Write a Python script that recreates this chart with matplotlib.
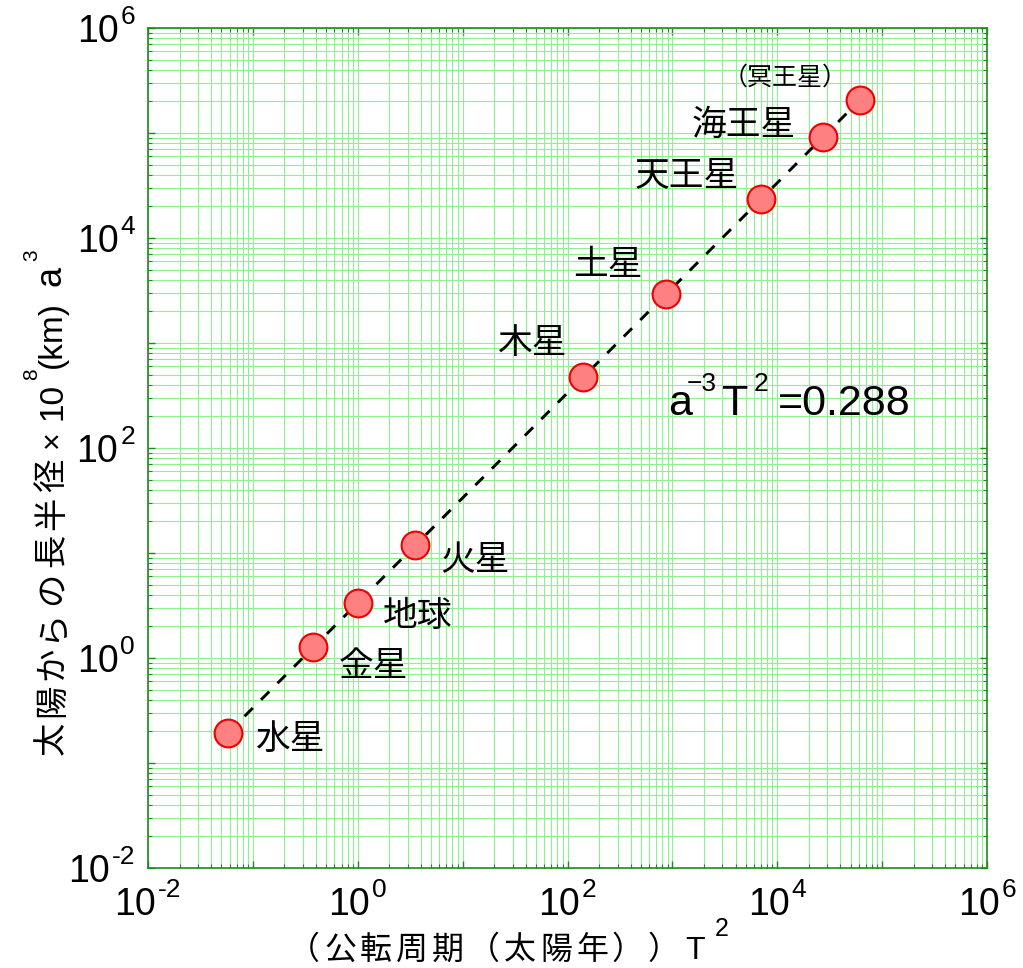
import numpy as np
import matplotlib
matplotlib.use('Agg')
import matplotlib.pyplot as plt
from matplotlib.ticker import LogLocator, NullFormatter
from matplotlib.transforms import IdentityTransform

plt.rcParams['font.family'] = ['Liberation Sans', 'Noto Sans CJK JP']
plt.rcParams['axes.unicode_minus'] = False

planets = ['水星', '金星', '地球', '火星', '木星', '土星', '天王星', '海王星', '（冥王星）']
period_sq = [0.058, 0.378, 1.0, 3.54, 140.7, 868, 7058, 27160, 61750]      # T^2 (years^2)
axis_cubed = [0.194, 1.267, 3.348, 11.84, 471.4, 2918, 23760, 91370, 206950]  # a^3 (10^8 km)^3
decades = [-2, 0, 2, 4, 6]

# where each name sits relative to its dot, in pixels (right, up)
label_off = [(62, -7), (60, -19), (60, -14), (60, -15), (-50, 34),
             (-58, 29), (-75, 23), (-79, 12), (-75, 22)]

W, H = 1023, 968
fig = plt.figure(figsize=(W / 100, H / 100), dpi=100)
ax = fig.add_axes([148 / W, 100 / H, 839 / W, 840 / H])
ax.set_xscale('log')
ax.set_yscale('log')
ax.set_xlim(1e-2, 1e6)
ax.set_ylim(1e-2, 1e6)

green = '#1f8a1f'
for axis in (ax.xaxis, ax.yaxis):
    axis.set_major_locator(LogLocator(base=10, numticks=20))
    axis.set_minor_locator(LogLocator(base=10, subs=np.arange(2, 10), numticks=20))
    axis.set_minor_formatter(NullFormatter())
ax.grid(True, which='both', color='#8ef08e', lw=0.8)
ax.set_axisbelow(True)
ax.tick_params(which='both', direction='in', top=True, right=True, color=green,
               labelbottom=False, labelleft=False)
ax.tick_params(which='major', length=5, width=1)
ax.tick_params(which='minor', length=3, width=0.8)
for sp in ax.spines.values():
    sp.set_color(green)
    sp.set_linewidth(1.2)

ax.plot([period_sq[0], period_sq[-1]], [axis_cubed[0], axis_cubed[-1]],
        color='black', lw=2.1, ls=(0, (4, 4)), zorder=3)
ax.plot(period_sq, axis_cubed, 'o', ms=20, mfc='#ff8080', mec='#ee0000', mew=1.5,
        ls='none', zorder=4)

for name, x, y, off in zip(planets, period_sq, axis_cubed, label_off):
    size = 18 if name.startswith('（') else 25
    ax.annotate(name, (x, y), xytext=off, textcoords='offset pixels',
                ha='center', va='center', fontsize=size)

pix = IdentityTransform()
rend = fig.canvas.get_renderer()


def runs(x, y, parts, rot=False, align='left'):
    # lay text pieces one after another; x, y = baseline start in picture pixels
    made, pos = [], 0.0
    for s, size, rise, step in parts:
        if s is None:
            pos += step
            continue
        if step:
            for ch in s:
                t = fig.text(0, 0, ch, fontsize=size, transform=pix, ha='center',
                             va='baseline', rotation=90 if rot else 0, rotation_mode='anchor')
                made.append((t, pos + step / 2, rise))
                pos += step
        else:
            t = fig.text(0, 0, s, fontsize=size, transform=pix, ha='left',
                         va='baseline', rotation=90 if rot else 0, rotation_mode='anchor')
            bb = t.get_window_extent(rend)
            made.append((t, pos, rise))
            pos += bb.height if rot else bb.width
    shift = {'left': 0, 'center': pos / 2, 'right': pos}[align]
    for t, p, rise in made:
        p -= shift
        if rot:
            t.set_position((x - rise, H - y + p))
        else:
            t.set_position((x + p, H - y + rise))


# tick labels
for d in decades:
    xd, _ = ax.transData.transform((10.0 ** d, 1e-2))
    runs(xd, 915, [('10', 27, 0, 0), (None, 0, 0, 2), ('%d' % d, 19, 18, 0)], align='center')
    _, yd = ax.transData.transform((1e-2, 10.0 ** d))
    runs(135, H - yd + 14, [('10', 27, 0, 0), (None, 0, 0, 2), ('%d' % d, 19, 18, 0)], align='right')

# axis titles
runs(286, 959, [('（公転周期（太陽年））', 23, 0, 36), (None, 0, 0, 3), ('T', 23, 0, 0),
                (None, 0, 0, 10), ('2', 18, 23, 0)])
runs(61, 757, [('太陽からの長半径', 24, 0, 37.5), (None, 0, 0, 9), ('×', 22, 0, 0),
               (None, 0, 0, 10), ('10', 24, 0, 0), (None, 0, 0, 3), ('8', 15, 24, 0),
               (None, 0, 0, 1), ('(km)', 24, 0, 0), (None, 0, 0, 14), ('a', 26, 0, 0),
               (None, 0, 0, 5), ('3', 15, 24, 0)], rot=True)

# the constant
runs(668, 415, [('a', 31, 0, 0), (None, 0, 0, -5), ('−3', 19, 24, 0), (None, 0, 0, 5),
                ('T', 31, 0, 0), (None, 0, 0, 5), ('2', 19, 24, 0), (None, 0, 0, 10),
                ('=0.288', 31, 0, 0)])

fig.savefig('out.png', dpi=100)
